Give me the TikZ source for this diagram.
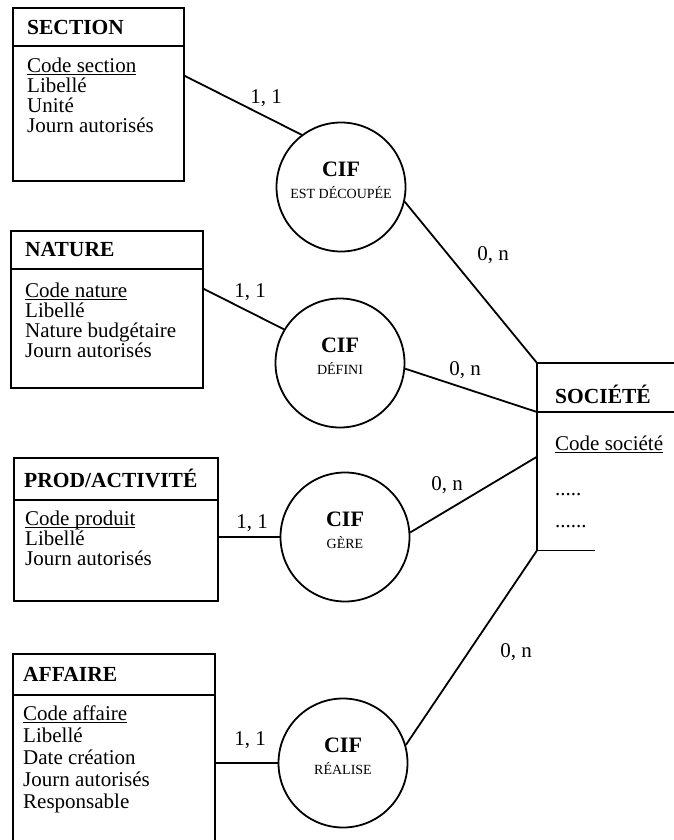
\documentclass[tikz,border=0pt]{standalone}
\usepackage{fontspec}
\setmainfont{Liberation Serif}

\newcommand{\cle}[1]{\underline{\smash{#1}}}

\tikzset{
  cadre/.style={line width=1.8pt},
  entite/.style={draw, cadre, rectangle, anchor=north west, inner sep=0pt},
  assoc/.style={draw, cadre, circle, minimum size=129pt, inner sep=0pt},
  titre/.style={anchor=west, inner sep=0pt, font=\fontsize{21.5}{23}\selectfont\bfseries},
  attr/.style={anchor=west, inner sep=0pt, text height=15pt, text depth=4pt, font=\fontsize{21}{23}\selectfont},
  cif/.style={inner sep=0pt, font=\fontsize{22}{23}\selectfont\bfseries},
  sous/.style={inner sep=0pt, font=\fontsize{14}{15}\selectfont},
  card/.style={inner sep=0pt, font=\fontsize{21}{23}\selectfont},
}

\begin{document}
\begin{tikzpicture}[x=1pt, y=-1pt]
  \path[use as bounding box] (0,0) rectangle (674,840);
  \clip (0,0) rectangle (674,840);

  % entites
  \node[entite, minimum width=171pt, minimum height=173pt] (section) at (12,7) {};
  \draw[cadre] (section.west |- 0,46) -- (section.east |- 0,46);
  \node[titre] (section-t) at (27,27) {SECTION};
  \foreach \txt [count=\i] in {\cle{Code section}, Libellé, Unité, Journ autorisés}
    \node[attr] (section-\i) at (27, 47+20*\i) {\txt};

  \node[entite, minimum width=192pt, minimum height=157pt] (nature) at (10,230) {};
  \draw[cadre] (nature.west |- 0,269) -- (nature.east |- 0,269);
  \node[titre] (nature-t) at (25,249.5) {NATURE};
  \foreach \txt [count=\i] in {\cle{Code nature}, Libellé, Nature budgétaire, Journ autorisés}
    \node[attr] (nature-\i) at (25, 272+20*\i) {\txt};

  \node[entite, minimum width=204pt, minimum height=143pt] (prod) at (13,457) {};
  \draw[cadre] (prod.west |- 0,500) -- (prod.east |- 0,500);
  \node[titre] (prod-t) at (24,478.5) {PROD/ACTIVITÉ};
  \foreach \txt [count=\i] in {\cle{Code produit}, Libellé, Journ autorisés}
    \node[attr] (prod-\i) at (25, 500+20*\i) {\txt};

  \node[entite, minimum width=202pt, minimum height=200pt] (affaire) at (12,653) {};
  \draw[cadre] (affaire.west |- 0,695) -- (affaire.east |- 0,695);
  \node[titre] (affaire-t) at (23,674) {AFFAIRE};
  \foreach \txt [count=\i] in {\cle{Code affaire}, Libellé, Date création, Journ autorisés, Responsable}
    \node[attr] (affaire-\i) at (23, 693+22*\i) {\txt};

  % societe, coupee a droite
  \node[minimum width=200pt, minimum height=187pt, anchor=north west, inner sep=0pt] (societe) at (537,363) {};
  \draw[cadre] (societe.north east) -- (societe.north west) -- (societe.south west) -- ++(58,0);
  \draw[cadre] (societe.west |- 0,412) coordinate (societe-h) -- (societe.east |- 0,412);
  \node[titre] (societe-t) at (555,394) {SOCIÉTÉ};
  \node[attr] (societe-1) at (555,445) {\cle{Code société}};
  \node[attr] (societe-2) at (555,490) {.....};
  \node[attr] (societe-3) at (555,522) {......};

  % associations
  \node[assoc] (estdec) at (341,187) {};
  \node[cif] at ([yshift=18pt]estdec.center) {CIF};
  \node[sous] at ([yshift=-6pt]estdec.center) {EST DÉCOUPÉE};

  \node[assoc] (defini) at (340,363) {};
  \node[cif] at ([yshift=18pt]defini.center) {CIF};
  \node[sous] at ([yshift=-6pt]defini.center) {DÉFINI};

  \node[assoc] (gere) at (345,537) {};
  \node[cif] at ([yshift=18pt]gere.center) {CIF};
  \node[sous] at ([yshift=-6pt]gere.center) {GÈRE};

  \node[assoc] (realise) at (343,763) {};
  \node[cif] at ([yshift=18pt]realise.center) {CIF};
  \node[sous] at ([yshift=-6pt]realise.center) {RÉALISE};

  % liens
  \draw[cadre] ([yshift=18.5pt]section.east) -- (estdec.127);
  \draw[cadre] (estdec.347) -- (societe.north west);
  \draw[cadre] ([yshift=20.5pt]nature.east) -- (defini.149);
  \draw[cadre] (defini.355) -- (societe-h);
  \draw[cadre] (prod.east |- gere.center) -- (gere.west);
  \draw[cadre] (gere.4) -- (societe.west);
  \draw[cadre] (affaire.east |- realise.center) -- (realise.west);
  \draw[cadre] (realise.16) -- (societe.south west);

  % cardinalites
  \node[card] at (266,98) {1, 1};
  \node[card] at (493,255) {0, n};
  \node[card] at (250,292) {1, 1};
  \node[card] at (465,370) {0, n};
  \node[card] at (252,523) {1, 1};
  \node[card] at (447,485) {0, n};
  \node[card] at (250,740) {1, 1};
  \node[card] at (516,652) {0, n};
\end{tikzpicture}
\end{document}
